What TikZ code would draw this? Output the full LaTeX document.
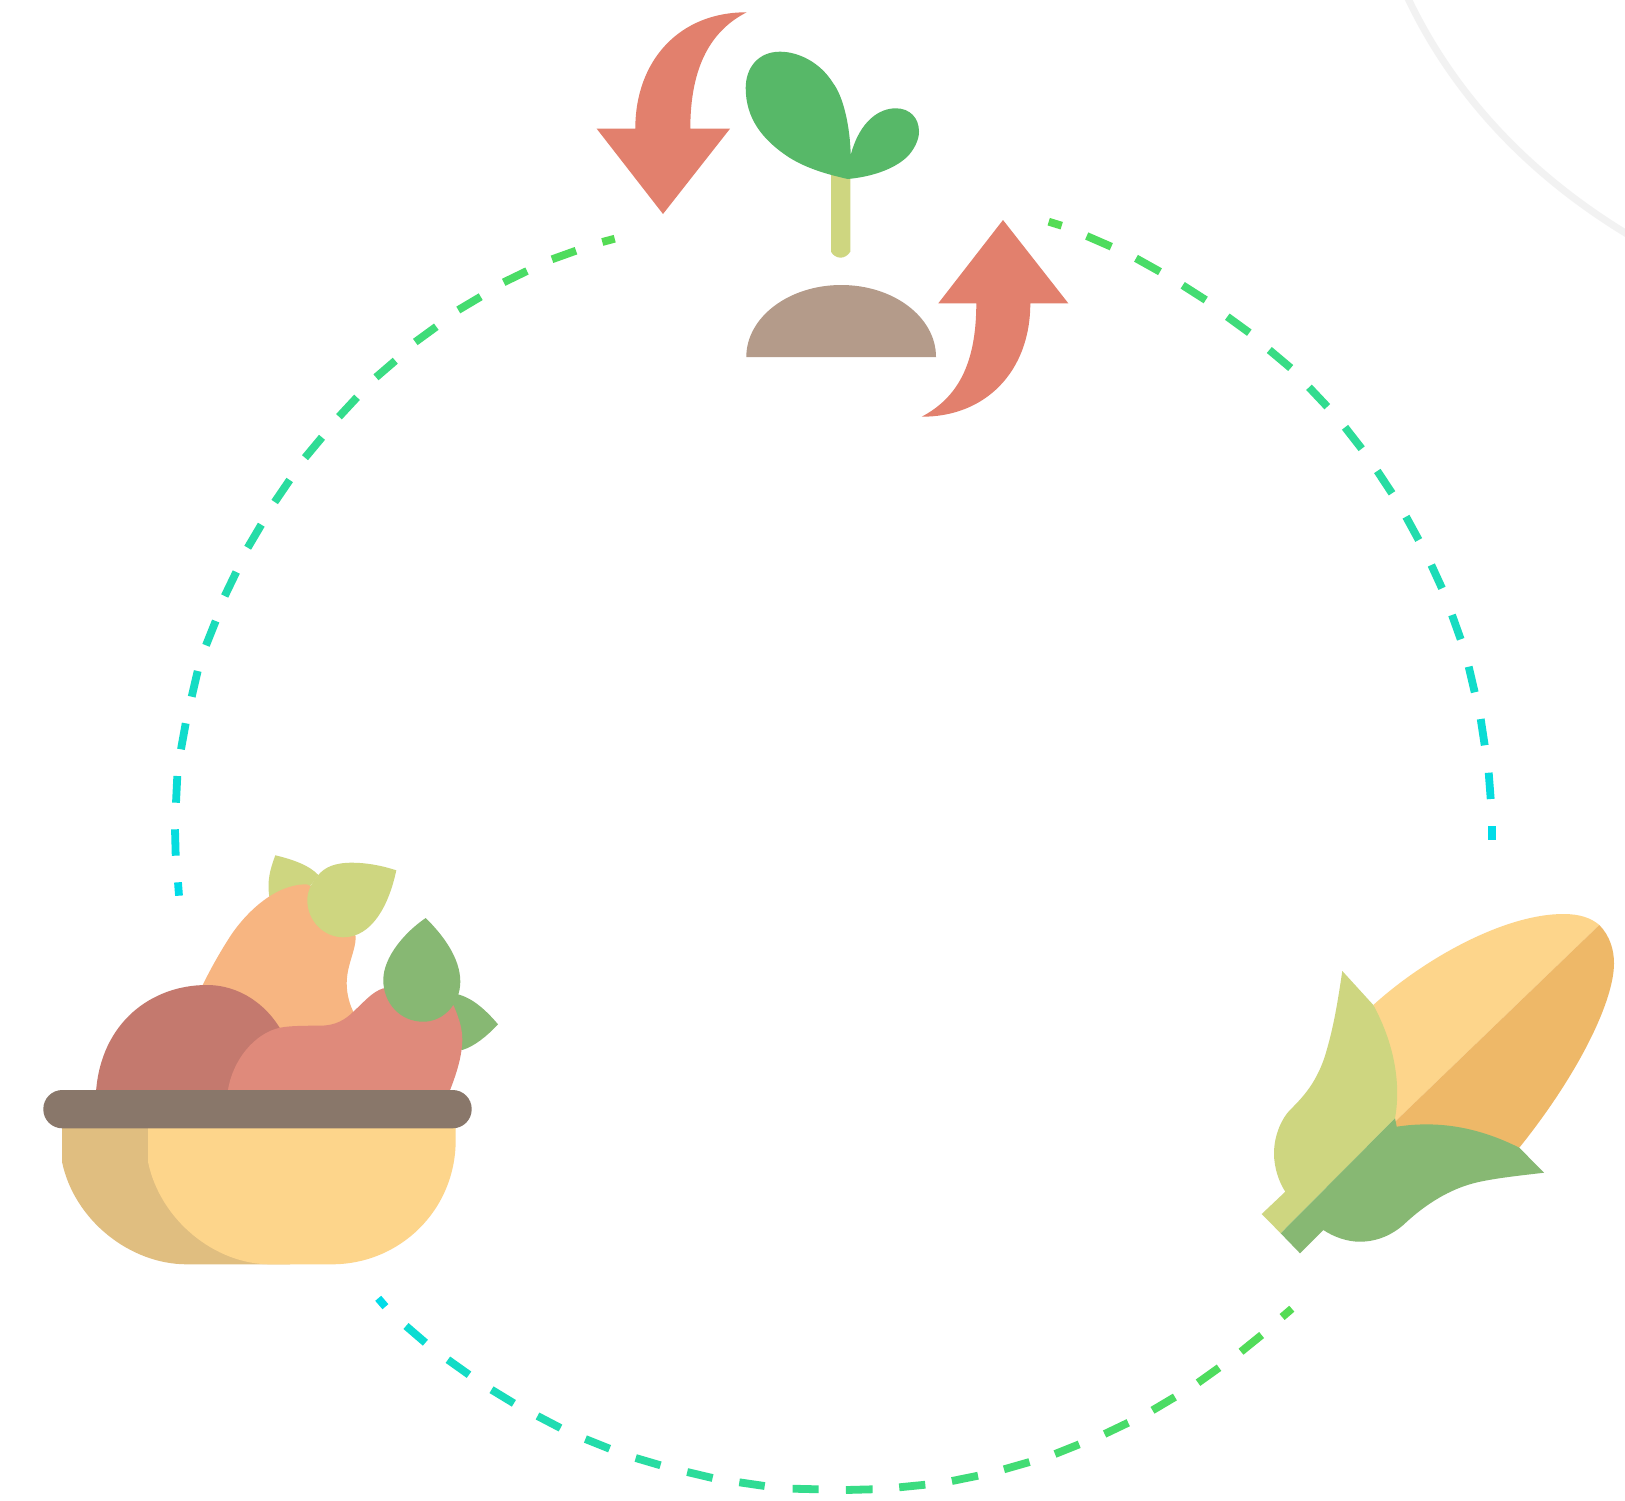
\documentclass[tikz,border=0pt]{standalone}
\definecolor{dashcyan}{RGB}{0,220,232}
\definecolor{dashgreen}{RGB}{84,220,84}
\definecolor{arrowred}{HTML}{E2806D}
\definecolor{sproutgreen}{HTML}{57B868}
\definecolor{lightleaf}{HTML}{CED680}
\definecolor{darkleaf}{HTML}{87B873}
\definecolor{soil}{HTML}{B49B8A}
\definecolor{rim}{HTML}{89776A}
\definecolor{bowlbright}{HTML}{FDD58B}
\definecolor{bowldark}{HTML}{E0BE80}
\definecolor{mango}{HTML}{F7B581}
\definecolor{darkfruit}{HTML}{C4796E}
\definecolor{sweetpotato}{HTML}{DF8A7B}
\definecolor{cornshade}{HTML}{EEB868}
\definecolor{faintline}{HTML}{F2F2F2}
\tikzset{
  gapdash/.style={line width=7.8pt,line cap=butt},
  faintarc/.style={line width=7pt,draw=faintline}
}
\begin{document}
\begin{tikzpicture}[x=1pt,y=-1pt]
\clip (0,0) rectangle (1625,1501);
\fill[white] (0,0) rectangle (1625,1501);

% faint arc, top right
\draw[faintarc] (1405,-8) .. controls (1450,90) and (1525,172) .. (1627,234);

% left dashed arc: green at the top, cyan at the bottom
\foreach \ax/\ay/\bx/\by [count=\n] in {
 614.7/238.7/602.3/242, 576/250.7/552/259.3, 527/271/503.7/282.3,
 480.7/296.7/458.3/310, 436.3/326.7/415.3/342, 395.3/360.7/376/377.3,
 357/397.3/339/416.7, 322/437.3/305/457.7, 289.7/480/274.7/502,
 261.3/524.7/247.7/547.7, 236.3/572/224.7/596, 215.7/621/206/645.3,
 197.7/671/191.7/696.7, 185.7/723.3/181/749.3, 177.3/776/176/802.7,
 175/829.3/175.7/855.7, 178/882.3/179/895.7}{
  \pgfmathsetmacro\mixp{100*(17-\n)/16}
  \draw[gapdash,draw=dashgreen!\mixp!dashcyan] (\ax,\ay) -- (\bx,\by);
}
% right dashed arc
\foreach \ax/\ay/\bx/\by [count=\n] in {
 1048.7/221.7/1061.7/225.7, 1086.7/236/1111.3/246.7, 1136/258.3/1160/271.7,
 1182.7/285.3/1205.7/300, 1227.3/316.7/1249.3/332.7, 1269.3/350/1290.7/368,
 1309/387.3/1327.3/406.7, 1345/427.3/1361.7/448.7, 1377.3/471/1392/493.3,
 1406/516.7/1418.7/540, 1431.3/565/1442/588.3, 1452/615/1460.7/639.3,
 1468.7/666.7/1474.7/692.3, 1480.7/719/1484.7/745.3, 1488.7/772.7/1490.7/799,
 1492/826.3/1492/839.7}{
  \pgfmathsetmacro\mixp{100*(16-\n)/15}
  \draw[gapdash,draw=dashgreen!\mixp!dashcyan] (\ax,\ay) -- (\bx,\by);
}
% bottom dashed arc
\foreach \ax/\ay/\bx/\by [count=\n] in {
 378.2/1298.3/385.4/1306.7, 406/1326/425.4/1342.7, 447.9/1359.7/469/1374.7,
 491.5/1389.7/513.9/1403.3, 537.5/1416/560.5/1428, 585.4/1439/609.6/1448.7,
 635.7/1458/660.5/1465.3, 687.2/1472/712.6/1478, 739.3/1482.3/764.7/1486,
 792.6/1488.7/818.6/1489.3, 845.9/1490/872.6/1489.3, 899.2/1487.3/925.3/1484.7,
 951.9/1481/978/1475.7, 1004/1469.3/1029.5/1462, 1055/1454/1079.2/1444.3,
 1104.6/1434/1128.2/1422.7, 1152.5/1410.3/1174.9/1397, 1198/1382.7/1219/1367.7,
 1241/1351.7/1261.6/1335, 1282.1/1317/1291.8/1308.7}{
  \pgfmathsetmacro\mixp{\n==1 ? 0 : 100*((\n-1)/19)^0.65}
  \draw[gapdash,draw=dashgreen!\mixp!dashcyan] (\ax,\ay) -- (\bx,\by);
}

% down arrow
\fill[arrowred] (635.3,128.7) .. controls (635.3,60) and (680,12) .. (746.7,12.3)
  .. controls (712,30) and (690.3,65) .. (690.3,128.7)
  -- (730,128.7) -- (663,214) -- (596.7,128.7) -- cycle;
% up arrow
\fill[arrowred] (1030.3,303.3) .. controls (1030.3,372) and (985,417) .. (921.7,416.7)
  .. controls (957,398) and (976.3,365) .. (976.3,303.3)
  -- (938.3,303.3) -- (1003,220) -- (1068.3,303.3) -- cycle;

% sprout
\fill[lightleaf] (831,170) -- (831,251.7) .. controls (833,255.5) and (837,257.7) .. (840.7,257.7)
  .. controls (844,257.7) and (848,255.5) .. (850.3,251.7) -- (850.3,170) -- cycle;
\fill[sproutgreen] (850.7,155) .. controls (850,125) and (843,96) .. (833,83)
  .. controls (820,62) and (798,51.7) .. (780,51.7)
  .. controls (758,51.7) and (745.7,68) .. (745.7,88)
  .. controls (745.7,118) and (762,140) .. (790,158)
  .. controls (808,169) and (828,174.5) .. (847.7,179)
  .. controls (870,177) and (893,170) .. (907,157)
  .. controls (914,150) and (919,140) .. (919,131.7)
  .. controls (919,118) and (910,108.3) .. (895.7,108.3)
  .. controls (880,108.3) and (860,120) .. (850.7,155) -- cycle;
\fill[soil] (746.3,357) .. controls (746.3,317.2) and (788.9,285) .. (841.2,285)
  .. controls (893.6,285) and (936,317.2) .. (936,357) -- cycle;

% fruit bowl: leaves and fruit behind the rim
\fill[lightleaf] (275.3,855.3) .. controls (295,860) and (310,866) .. (318.3,875)
  -- (300,900) -- (269.3,896.7) .. controls (267,880) and (270,870) .. (275.3,855.3) -- cycle;
\fill[mango] (202.7,985) .. controls (212,966) and (222,949) .. (230,936.7)
  .. controls (240,921) and (270,884.3) .. (306.7,884.3) -- (340,900) -- (355.7,936.7)
  .. controls (356,950) and (346.7,965) .. (346.7,983.3)
  .. controls (346.7,995) and (350,1005) .. (353.3,1011.7)
  -- (353,1092) -- (202.7,1092) -- cycle;
\fill[lightleaf] (396.3,870.3) .. controls (380,865) and (365,862.7) .. (352,862.7)
  .. controls (335,862.7) and (325,867) .. (318.3,875)
  .. controls (311,883) and (307.3,892) .. (307.3,900)
  .. controls (307.3,921) and (324,937.3) .. (343.3,937.3)
  .. controls (372,937.3) and (389,905) .. (396.3,870.3) -- cycle;
\fill[darkfruit] (96,1092) .. controls (101,1022) and (152,985) .. (206.7,985)
  .. controls (240,985) and (266,1005) .. (280,1028.3) -- (280,1092) -- cycle;
\fill[darkleaf] (458,994.3) .. controls (472,998) and (485,1009) .. (498,1024.3)
  .. controls (487,1036) and (475,1046) .. (462.3,1050) -- (440,1040) -- (440,1000) -- cycle;
\fill[sweetpotato] (227.7,1092) .. controls (232,1060) and (255,1033) .. (280,1027.7)
  .. controls (290,1025.7) and (305,1025.7) .. (320,1025.7)
  .. controls (335,1025.7) and (345,1020) .. (353.3,1011.7)
  .. controls (365,1001) and (372,992) .. (383.3,988.3) -- (420,1000) -- (453.3,1005)
  .. controls (460,1020) and (462.3,1030) .. (462.3,1040)
  .. controls (462,1057) and (456,1075) .. (449.3,1092) -- cycle;
\fill[darkleaf] (425.7,918) .. controls (405,932) and (383.3,957) .. (383.3,980)
  .. controls (383.3,1003) and (400,1021.7) .. (423.3,1021.7)
  .. controls (444,1021.7) and (460.3,1003) .. (460.3,981.7)
  .. controls (460.3,958) and (443,935) .. (425.7,918) -- cycle;
% bowl
\fill[bowldark] (62,1126) -- (62,1161.7) .. controls (74,1220) and (130,1264.3) .. (186.7,1264.3)
  -- (290,1264.3) -- (290,1126) -- cycle;
\fill[bowlbright] (148,1126) -- (148,1161.7) .. controls (160,1220) and (215,1264.3) .. (270,1264.3)
  -- (331.7,1264.3) .. controls (400,1264.3) and (455.7,1210) .. (455.7,1140)
  -- (455.7,1126) -- cycle;
\fill[rim,rounded corners=19pt] (43.3,1090) rectangle (471.7,1128.3);

% corn
\fill[bowlbright] (1373.3,1005) .. controls (1425,958) and (1505,914) .. (1563.3,914)
  .. controls (1580,914) and (1591,918) .. (1599.3,925) -- (1395,1121.7) -- cycle;
\fill[cornshade] (1599.3,925) .. controls (1610,936) and (1614,950) .. (1614,963.3)
  .. controls (1614,1000) and (1580,1072) .. (1519.3,1147.7)
  -- (1395,1160) -- (1395,1121.7) -- cycle;
\fill[lightleaf] (1342.3,971) -- (1373.3,1005)
  .. controls (1395,1045) and (1401,1085) .. (1395,1118.3)
  -- (1280.7,1233.3) -- (1261.7,1214) -- (1285.3,1191.7)
  .. controls (1279,1182) and (1274,1168) .. (1274,1153.3)
  .. controls (1274,1135) and (1282,1118) .. (1290,1110)
  .. controls (1302,1098) and (1318,1082) .. (1326.7,1050)
  .. controls (1334,1025) and (1338,1000) .. (1342.3,971) -- cycle;
\fill[darkleaf] (1395,1118.3) -- (1280.7,1233.3) -- (1300,1253.3) -- (1323.3,1230)
  .. controls (1334,1237) and (1347,1241.7) .. (1360,1241.7)
  .. controls (1378,1241.7) and (1393,1234) .. (1403.3,1225)
  .. controls (1418,1211) and (1445,1189) .. (1480,1181.7)
  .. controls (1500,1177.5) and (1525,1175) .. (1544,1172.7)
  -- (1519.3,1147.7)
  .. controls (1480,1128) and (1440,1120) .. (1396.7,1126.7) -- cycle;
\end{tikzpicture}
\end{document}
